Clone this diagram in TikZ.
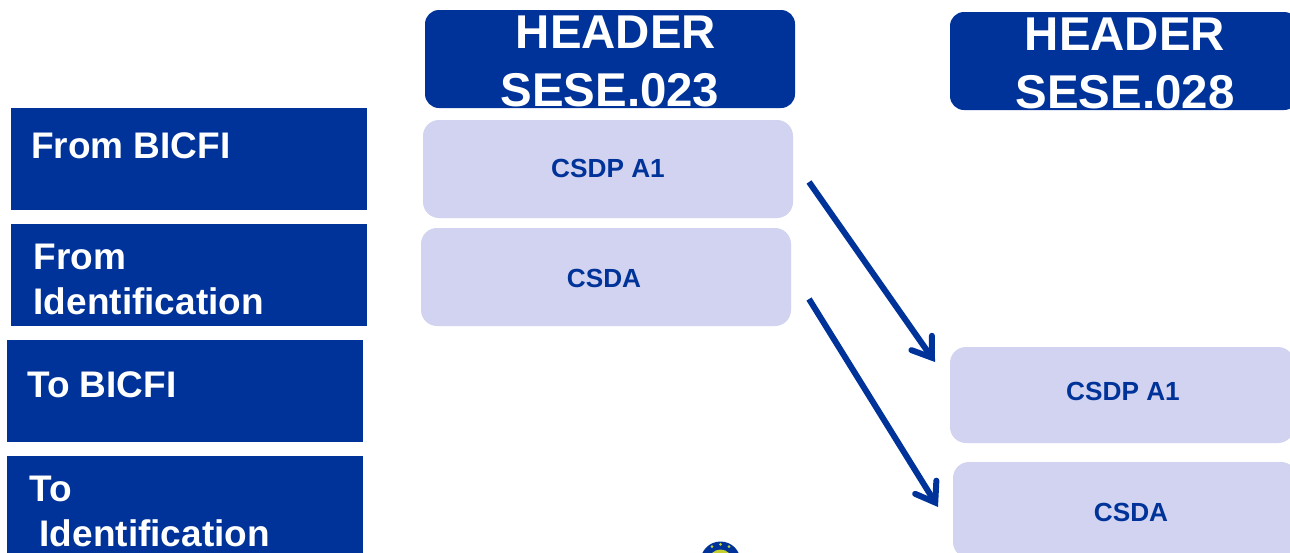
\documentclass[tikz,border=0pt]{standalone}
\usepackage{fontspec}
\setmainfont{Liberation Sans}
\usetikzlibrary{arrows.meta}
\definecolor{navy}{HTML}{003399}
\definecolor{pale}{HTML}{D2D3F0}
\definecolor{seal}{HTML}{C8D030}
\tikzset{
  x=1pt,y=-1pt,
  box/.style={anchor=north west,inner sep=0pt,outer sep=0pt},
  side/.style={box,fill=navy},
  head/.style={box,fill=navy,rounded corners=14pt},
  item/.style={box,fill=pale,rounded corners=16pt},
  sidetext/.style={anchor=base west,inner sep=0pt,text=white,font=\fontsize{37}{37}\selectfont\bfseries},
  headtext/.style={anchor=base,inner sep=0pt,text=white,font=\fontsize{47.4}{47.4}\selectfont\bfseries},
  itemtext/.style={anchor=base,inner sep=0pt,text=navy,font=\fontsize{26.2}{26.2}\selectfont\bfseries},
  link/.style={draw=navy,line width=6pt,-{Straight Barb[length=18pt,width=25pt,line cap=round]}}
}
\begin{document}
\begin{tikzpicture}
\useasboundingbox (0,0) rectangle (1290,552);
\clip (0,0) rectangle (1290,552);
\node[side,minimum width=356pt,minimum height=102pt] (s1) at (11,108) {};
\node[side,minimum width=356pt,minimum height=102pt] (s2) at (11,224) {};
\node[side,minimum width=356pt,minimum height=102pt] (s3) at (7,340) {};
\node[side,minimum width=356pt,minimum height=102pt] (s4) at (7,456) {};
\node[sidetext] (t1) at (31,158) {From BICFI};
\node[sidetext] (t2a) at (33.5,269) {From};
\node[sidetext] (t2b) at (33.5,314) {Identification};
\node[sidetext] (t3) at (27,397.5) {To BICFI};
\node[sidetext] (t4a) at (29,501) {To};
\node[sidetext] (t4b) at (39.5,546) {Identification};
\node[head,minimum width=370pt,minimum height=98pt] (h1) at (425,10) {};
\node[head,minimum width=348pt,minimum height=98pt] (h2) at (950,12) {};
\node[headtext] (h1a) at (616,48) {HEADER};
\node[headtext] (h1b) at (610,106) {SESE.023};
\node[headtext] (h2a) at (1125,50) {HEADER};
\node[headtext] (h2b) at (1125,108) {SESE.028};
\node[item,minimum width=370pt,minimum height=98pt] (a1) at (423,120) {};
\node[item,minimum width=370pt,minimum height=98pt] (a2) at (421,228) {};
\node[item,minimum width=344pt,minimum height=96pt] (b1) at (950,347) {};
\node[item,minimum width=344pt,minimum height=96pt] (b2) at (953,462) {};
\node[itemtext] (a1t) at (608,177) {CSDP A1};
\node[itemtext] (a2t) at (604,287) {CSDA};
\node[itemtext] (b1t) at (1123,400) {CSDP A1};
\node[itemtext] (b2t) at (1131,521) {CSDA};
\coordinate (o1) at (809,182);
\coordinate (i1) at (935,362);
\coordinate (o2) at (809,299);
\coordinate (i2) at (938,507);
\draw[link] (o1) -- (i1);
\draw[link] (o2) -- (i2);
\fill[navy] (720.5,561.5) circle (20pt);
\fill[seal] (720.5,561.5) circle (12pt);
\foreach \px/\py in {712/546.7,720.5/544.3,729/546.7} \fill[seal] (\px,\py) circle (1.5pt);
\end{tikzpicture}
\end{document}
